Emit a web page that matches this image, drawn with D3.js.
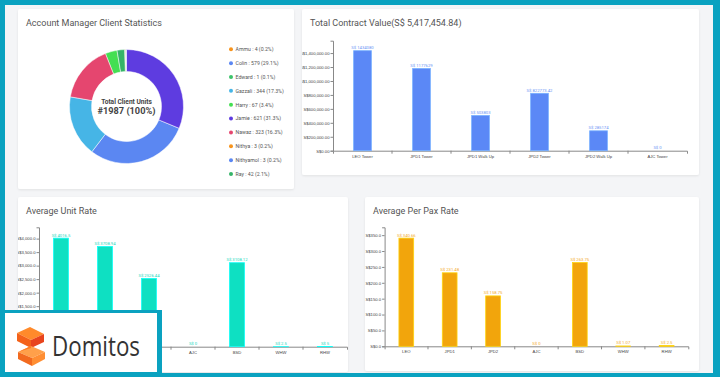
<!DOCTYPE html>
<html>
<head>
<meta charset="utf-8">
<script src="https://cdn.jsdelivr.net/npm/d3@7"></script>
<style>
  html, body { margin: 0; padding: 0; background: #0aa2c0; }
  svg { display: block; font-family: Roboto, "Open Sans", sans-serif; }
</style>
</head>
<body>
<svg id="chart" width="720" height="377"></svg>
<script>
// ---------- DATA ----------
const managerNames = ["Ammu", "Colin", "Edward", "Gazzali", "Harry", "Jamie", "Nawaz", "Nithya", "Nithyamol", "Ray"];
const managerUnits = [4, 579, 1, 344, 67, 621, 323, 3, 3, 42];
const managerColors = ["#f7941d", "#5b87f2", "#3cc36a", "#46b5e6", "#44df52", "#5e3ce0", "#e5466f", "#f7941d", "#5b87f2", "#35b468"];

const contractCats = ["LEO Tower", "JPD1 Tower", "JPD1 Walk Up", "JPD2 Tower", "JPD2 Walk Up", "AJC Tower"];
const contractValues = [1434080, 1177629, 503803, 822773.42, 285174, 0];

const unitCats = ["LEO", "JPD1", "JPD2", "AJC", "BSD", "WHW", "RHW"];
const unitValues = [4016.5, 3708.94, 2526.44, 0, 3108.12, 2.5, 5];

const paxCats = ["LEO", "JPD1", "JPD2", "AJC", "BSD", "WHW", "RHW"];
const paxValues = [340.66, 231.48, 158.75, 0, 263.75, 1.07, 2.5];

const titles = ["Account Manager Client Statistics", "Total Contract Value(S$ 5,417,454.84)", "Average Unit Rate", "Average Per Pax Rate"];

// ---------- LAYOUT ----------
const svg = d3.select("#chart");
const defs = svg.append("defs");
const f = defs.append("filter").attr("id", "sh").attr("x", "-5%").attr("y", "-5%").attr("width", "110%").attr("height", "115%");
f.append("feDropShadow").attr("dx", 0).attr("dy", 1).attr("stdDeviation", 1).attr("flood-color", "#000").attr("flood-opacity", 0.08);

// page background inside teal frame
svg.append("rect").attr("x", 5).attr("y", 5).attr("width", 708).attr("height", 368).attr("fill", "#f4f5f7");

const panels = [
  {x: 18, y: 9, w: 276, h: 180},
  {x: 302, y: 9, w: 397, h: 166},
  {x: 18, y: 197, w: 330, h: 175},
  {x: 365, y: 197, w: 334, h: 174}
];
panels.forEach((p, i) => {
  svg.append("rect").attr("x", p.x).attr("y", p.y).attr("width", p.w).attr("height", p.h)
    .attr("rx", 2).attr("fill", "#fff").attr("filter", "url(#sh)");
  defs.append("clipPath").attr("id", "clip" + i).append("rect")
    .attr("x", p.x).attr("y", p.y).attr("width", p.w).attr("height", p.h);
  svg.append("text").attr("x", p.x + 8).attr("y", p.y + 17)
    .attr("font-size", 9).attr("fill", "#555").text(titles[i]);
});

// ---------- DONUT ----------
const total = d3.sum(managerUnits);
const cx = 126.5, cy = 106.5;
const pie = d3.pie().value(d => d.v);
const arc = d3.arc().innerRadius(35).outerRadius(57);
const donutData = managerNames.map((n, i) => ({n, v: managerUnits[i], c: managerColors[i]}));
const gd = svg.append("g").attr("transform", `translate(${cx},${cy})`);
gd.selectAll("path").data(pie(donutData)).join("path")
  .attr("d", arc).attr("fill", d => d.data.c).attr("stroke", "#fff").attr("stroke-width", 0.5);
gd.append("text").attr("text-anchor", "middle").attr("y", -3).attr("font-size", 6.6)
  .attr("font-weight", "bold").attr("fill", "#444").text("Total Client Units");
gd.append("text").attr("text-anchor", "middle").attr("y", 7.5).attr("font-size", 9.2)
  .attr("font-weight", "bold").attr("fill", "#444").text(`#${total} (100%)`);

const leg = svg.append("g");
const legY = d3.scalePoint().domain(managerNames).range([49.3, 174]);
managerNames.forEach((n, i) => {
  leg.append("circle").attr("cx", 231).attr("cy", legY(n)).attr("r", 2).attr("fill", managerColors[i]);
  leg.append("text").attr("x", 235.5).attr("y", legY(n) + 1.8).attr("font-size", 5.2).attr("fill", "#555")
    .text(`${n} : ${managerUnits[i]} (${(managerUnits[i] / total * 100).toFixed(1)}%)`);
});

// ---------- BAR CHART ----------
function barChart(opt) {
  const g = svg.append("g").attr("clip-path", `url(#clip${opt.clip})`);
  const x = d3.scaleBand().domain(opt.cats).range([opt.x0, opt.x1]).padding(0);
  const y = d3.scaleLinear().domain([0, d3.max(opt.values) * 1.1]).range([opt.y0, opt.y1]);
  const yAxis = d3.axisLeft(y).tickSize(2.5).tickPadding(1).tickFormat(opt.fmt);
  const ya = g.append("g").attr("transform", `translate(${opt.x0},0)`).call(yAxis);
  ya.selectAll("text").attr("font-size", opt.fs).attr("fill", "#444");
  ya.selectAll("path,line").attr("stroke", "#888");
  const xAxis = d3.axisBottom(x).tickSizeInner(0).tickSizeOuter(3).tickPadding(4);
  const xa = g.append("g").attr("transform", `translate(0,${opt.y0})`).call(xAxis);
  xa.selectAll("text").attr("font-size", opt.fs).attr("fill", "#444");
  xa.selectAll("path,line").attr("stroke", "#888");
  // boundary ticks
  xa.selectAll("line.bnd").data(opt.cats.slice(0, -1)).join("line").attr("class", "bnd")
    .attr("x1", d => x(d) + x.step()).attr("x2", d => x(d) + x.step())
    .attr("y1", 0).attr("y2", 3).attr("stroke", "#888");
  const bw = x.step() * opt.frac;
  const data = opt.cats.map((c, i) => ({c, v: opt.values[i]}));
  g.selectAll("rect.bar").data(data).join("rect").attr("class", "bar")
    .attr("x", d => x(d.c) + x.step() / 2 - bw / 2).attr("width", bw)
    .attr("y", d => y(d.v)).attr("height", d => y(0) - y(d.v))
    .attr("fill", opt.color).attr("stroke", d3.color(opt.color).brighter(0.7)).attr("stroke-width", 0.8);
  g.selectAll("text.val").data(data).join("text").attr("class", "val")
    .attr("x", d => x(d.c) + x.step() / 2).attr("y", d => y(d.v) - 1.5)
    .attr("text-anchor", "middle").attr("font-size", opt.fs).attr("fill", opt.labelColor)
    .text(d => "S$ " + d.v);
}

barChart({clip: 1, cats: contractCats, values: contractValues, x0: 333, x1: 687, y0: 150.7, y1: 40.7,
  color: "#5b88f6", labelColor: "#6a93f5", frac: 0.3, fs: 4.2, fmt: d => "S$" + d3.format(",.2f")(d)});
barChart({clip: 2, cats: unitCats, values: unitValues, x0: 39, x1: 347, y0: 346.7, y1: 227.3,
  color: "#0ee0c2", labelColor: "#22d8bd", frac: 0.34, fs: 4.2, fmt: d => "S$" + d3.format(",.1f")(d)});
barChart({clip: 3, cats: paxCats, values: paxValues, x0: 384.6, x1: 688.3, y0: 346.3, y1: 227.3,
  color: "#f2a50c", labelColor: "#f3aa2a", frac: 0.34, fs: 4.2, fmt: d => "S$" + d3.format(",.1f")(d)});

// ---------- TEAL FRAME (drawn over) ----------
const teal = "#0aa2c0";
svg.append("rect").attr("x", 0).attr("y", 0).attr("width", 720).attr("height", 5).attr("fill", teal);
svg.append("rect").attr("x", 0).attr("y", 373).attr("width", 720).attr("height", 4).attr("fill", teal);
svg.append("rect").attr("x", 0).attr("y", 0).attr("width", 5).attr("height", 377).attr("fill", teal);
svg.append("rect").attr("x", 713).attr("y", 0).attr("width", 7).attr("height", 377).attr("fill", teal);

// ---------- LOGO ----------
svg.append("rect").attr("x", 0).attr("y", 310).attr("width", 162).attr("height", 67).attr("fill", teal);
svg.append("rect").attr("x", 5).attr("y", 313).attr("width", 152).attr("height", 59).attr("fill", "#fff");
const logo = svg.append("g");
const polys = [
  // upper block
  {p: [[17,333],[30,327],[44,334],[31,340]], c: "#ff8a2b"},
  {p: [[17,333],[31,340],[31,348],[17,341]], c: "#f4621a"},
  {p: [[31,340],[44,334],[44,342],[31,348]], c: "#e8441d"},
  // lower block
  {p: [[18,352],[31,346],[45,352],[32,358]], c: "#ffa04a"},
  {p: [[31,346],[31,348],[18,352]], c: "#ff7a22"},
  {p: [[18,352],[32,358],[32,366],[18,359]], c: "#f26a1f"},
  {p: [[32,358],[45,352],[45,359],[32,366]], c: "#ff8e33"}
];
polys.forEach(d => logo.append("polygon").attr("points", d.p.map(q => q.join(",")).join(" ")).attr("fill", d.c));
logo.append("text").attr("x", 52).attr("y", 356).attr("font-size", 27).attr("fill", "#333")
  .attr("font-family", "'Open Sans', sans-serif").attr("textLength", 88).attr("lengthAdjust", "spacingAndGlyphs")
  .text("Domitos");
</script>
</body>
</html>
